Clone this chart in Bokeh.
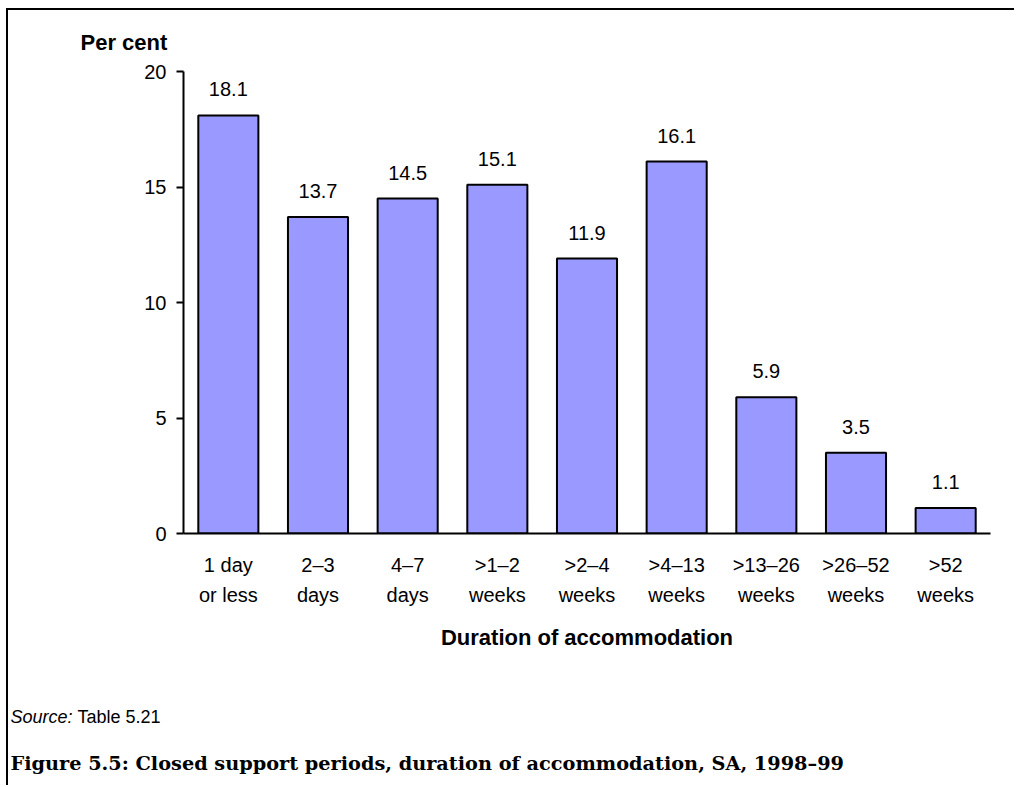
from bokeh.plotting import figure
from bokeh.layouts import column
from bokeh.models import ColumnDataSource, Title, FixedTicker, Range1d, FactorRange
from bokeh.core.properties import value
from bokeh.embed import file_html
from bokeh.resources import INLINE

categories = ["1 day\nor less", "2\u20133\ndays", "4\u20137\ndays", ">1\u20132\nweeks", ">2\u20134\nweeks",
              ">4\u201313\nweeks", ">13\u201326\nweeks", ">26\u201352\nweeks", ">52\nweeks"]
per_cent = [18.1, 13.7, 14.5, 15.1, 11.9, 16.1, 5.9, 3.5, 1.1]
y_ticks = [0, 5, 10, 15, 20]

FONT = "Liberation Sans"
W, H1, H2 = 1008, 660, 117

src = ColumnDataSource(dict(cat=categories, val=per_cent, lab=[f"{v:.1f}" for v in per_cent]))

p = figure(width=W, height=H1, output_backend="svg", toolbar_location=None,
           x_range=FactorRange(factors=categories, range_padding=0.0),
           y_range=Range1d(0, 20),
           min_border_left=175, min_border_right=26, min_border_top=61, min_border_bottom=137)
p.styles = {"margin-top": "8px", "margin-left": "6px",
            "border-top": "2px solid black", "border-left": "2px solid black"}
p.outline_line_color = None
p.grid.grid_line_color = None
p.background_fill_color = "white"
p.border_fill_color = "white"

p.vbar(x="cat", top="val", width=0.67, source=src, fill_color="#9999FF",
       line_color="black", line_width=2)
p.text(x="cat", y="val", text="lab", source=src, text_align="center", text_baseline="middle",
       y_offset=-26, text_font=value(FONT), text_font_size="20px", text_color="black")

# y axis
ya = p.yaxis[0]
ya.ticker = FixedTicker(ticks=y_ticks)
ya.axis_line_color = "black"
ya.axis_line_width = 2
ya.major_tick_line_color = "black"
ya.major_tick_line_width = 2
ya.major_tick_in = 0
ya.major_tick_out = 7
ya.minor_tick_line_color = None
ya.major_label_text_font = FONT
ya.major_label_text_font_size = "20px"
ya.major_label_text_color = "black"
ya.major_label_standoff = 10

# x axis
xa = p.xaxis[0]
xa.axis_line_color = "black"
xa.axis_line_width = 2
xa.major_tick_line_color = None
xa.minor_tick_line_color = None
xa.major_label_text_font = FONT
xa.major_label_text_font_size = "20px"
xa.major_label_text_color = "black"
xa.major_label_text_line_height = 1.4
xa.major_label_standoff = 14
xa.axis_label = "Duration of accommodation"
xa.axis_label_text_font = FONT
xa.axis_label_text_font_size = "22px"
xa.axis_label_text_font_style = "bold"
xa.axis_label_text_color = "black"
xa.axis_label_standoff = 16

p.add_layout(Title(text="Per cent", align="left", offset=-103, standoff=33,
                   text_font=FONT, text_font_size="22px", text_font_style="bold",
                   text_color="black"), "above")

# footer: source note and figure caption
foot = figure(width=W, height=H2, output_backend="svg", toolbar_location=None,
              x_range=Range1d(0, W), y_range=Range1d(H2, 0),
              x_axis_location=None, y_axis_location=None,
              min_border=0, min_border_left=0, min_border_right=0,
              min_border_top=0, min_border_bottom=0)
foot.frame_align = False
foot.styles = {"margin-left": "6px", "border-left": "2px solid black"}
foot.grid.visible = False
foot.outline_line_color = None
foot.background_fill_color = "white"
foot.border_fill_color = "white"

foot.text(x=[2], y=[48], text=["Source:"], text_font=value(FONT), text_font_size="18px",
          text_font_style="italic", text_color="black", text_baseline="middle")
foot.text(x=[69], y=[48], text=["Table 5.21"], text_font=value(FONT), text_font_size="18px",
          text_color="black", text_baseline="middle")
foot.text(x=[2], y=[95],
          text=["Figure 5.5: Closed support periods, duration of accommodation, SA, 1998\u201399"],
          text_font=value("DejaVu Serif"), text_font_size="19.3px", text_font_style="bold",
          text_color="black", text_baseline="middle")

layout = column(p, foot, spacing=0)
open("out.html", "w").write(file_html(layout, INLINE))
